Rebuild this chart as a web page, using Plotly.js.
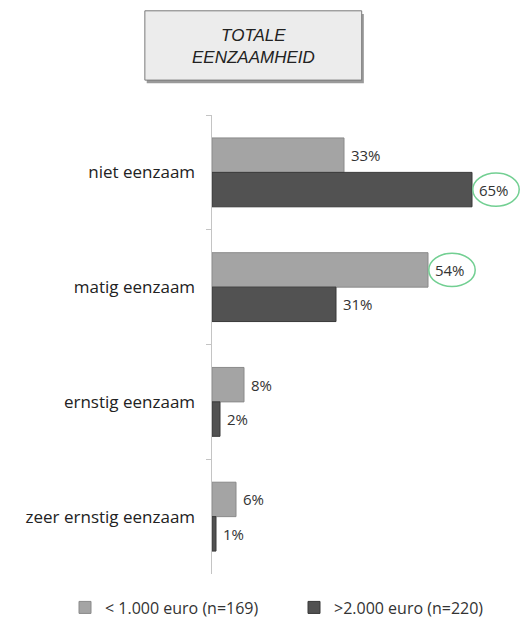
<!DOCTYPE html>
<html><head><meta charset="utf-8">
<script src="https://cdn.plot.ly/plotly-3.0.1.min.js"></script>
<style>html,body{margin:0;padding:0;background:#fff}#chart{width:523px;height:627px}</style>
</head><body><div id="chart"></div>
<script>
const categories = ['niet eenzaam', 'matig eenzaam', 'ernstig eenzaam', 'zeer ernstig eenzaam'];
const seriesNames = ['< 1.000 euro (n=169)', '>2.000 euro (n=220)'];
const lowIncome = [33, 54, 8, 6];
const highIncome = [65, 31, 2, 1];
const titleLines = ['TOTALE', 'EENZAAMHEID'];
// highlighted labels: [series index, category index]
const highlights = [[1, 0], [0, 1]];

const font = '"Open Sans", Lato, sans-serif';
const series = [lowIncome, highIncome];
const colors = ['#a4a4a4', '#525252'];
const lines = ['#8a8a8a', '#383838'];

const traces = series.map((vals, i) => ({
  type: 'bar', orientation: 'h', name: seriesNames[i],
  y: categories, x: vals,
  text: vals.map(v => '\u00a0' + v + '%'), textposition: 'outside', cliponaxis: false,
  textfont: {family: font, size: 15, color: '#333'},
  marker: {color: colors[i], line: {color: lines[i], width: 1}},
  hoverinfo: 'skip'
}));

const barW = 0.3;
const shapes = [
  {type: 'rect', xref: 'paper', yref: 'paper', x0: -0.212, x1: 0.493, y0: 1.220, y1: 1.069,
   fillcolor: '#9a9a9a', line: {width: 0}, layer: 'below'},
  {type: 'rect', xref: 'paper', yref: 'paper', x0: -0.218, x1: 0.486, y0: 1.227, y1: 1.076,
   fillcolor: '#ececec', line: {color: '#7a7a7a', width: 1}, layer: 'below'}
];
highlights.forEach(([s, c]) => {
  const v = series[s][c];
  const yc = c + (s === 0 ? -barW / 2 : barW / 2);
  shapes.push({type: 'circle', xref: 'x', yref: 'y',
    x0: v + 0.2, x1: v + 11.8, y0: yc - 0.145, y1: yc + 0.145,
    line: {color: '#72cf92', width: 1.5}});
});

const layout = {
  width: 523, height: 627,
  margin: {l: 212, r: 3, t: 115, b: 49},
  paper_bgcolor: '#fff', plot_bgcolor: '#fff',
  barmode: 'group', bargap: 0.4, bargroupgap: 0,
  showlegend: true,
  legend: {orientation: 'h', x: -0.467, xanchor: 'left', y: -0.073, yanchor: 'middle',
    font: {family: font, size: 16, color: '#333'}, itemwidth: 30, entrywidth: 184,
    traceorder: 'normal'},
  xaxis: {range: [0, 77], visible: false, fixedrange: true},
  yaxis: {type: 'category', autorange: 'reversed', showline: true, linecolor: '#c4c4c4', linewidth: 1.5,
    ticks: 'outside', tickson: 'boundaries', ticklen: 5, tickcolor: '#c4c4c4',
    showgrid: false, tickfont: {family: font, size: 17, color: '#222'}, ticklabelstandoff: 12, automargin: false},
  shapes: shapes,
  annotations: [{xref: 'paper', yref: 'paper', x: 0.134, y: 1.149, xanchor: 'center', yanchor: 'middle',
    text: titleLines.join('<br>'), showarrow: false,
    font: {family: 'Liberation Sans, Arial, sans-serif', size: 17, color: '#222', style: 'italic'}}]
};
Plotly.newPlot('chart', traces, layout, {displayModeBar: false, staticPlot: true});
</script></body></html>
